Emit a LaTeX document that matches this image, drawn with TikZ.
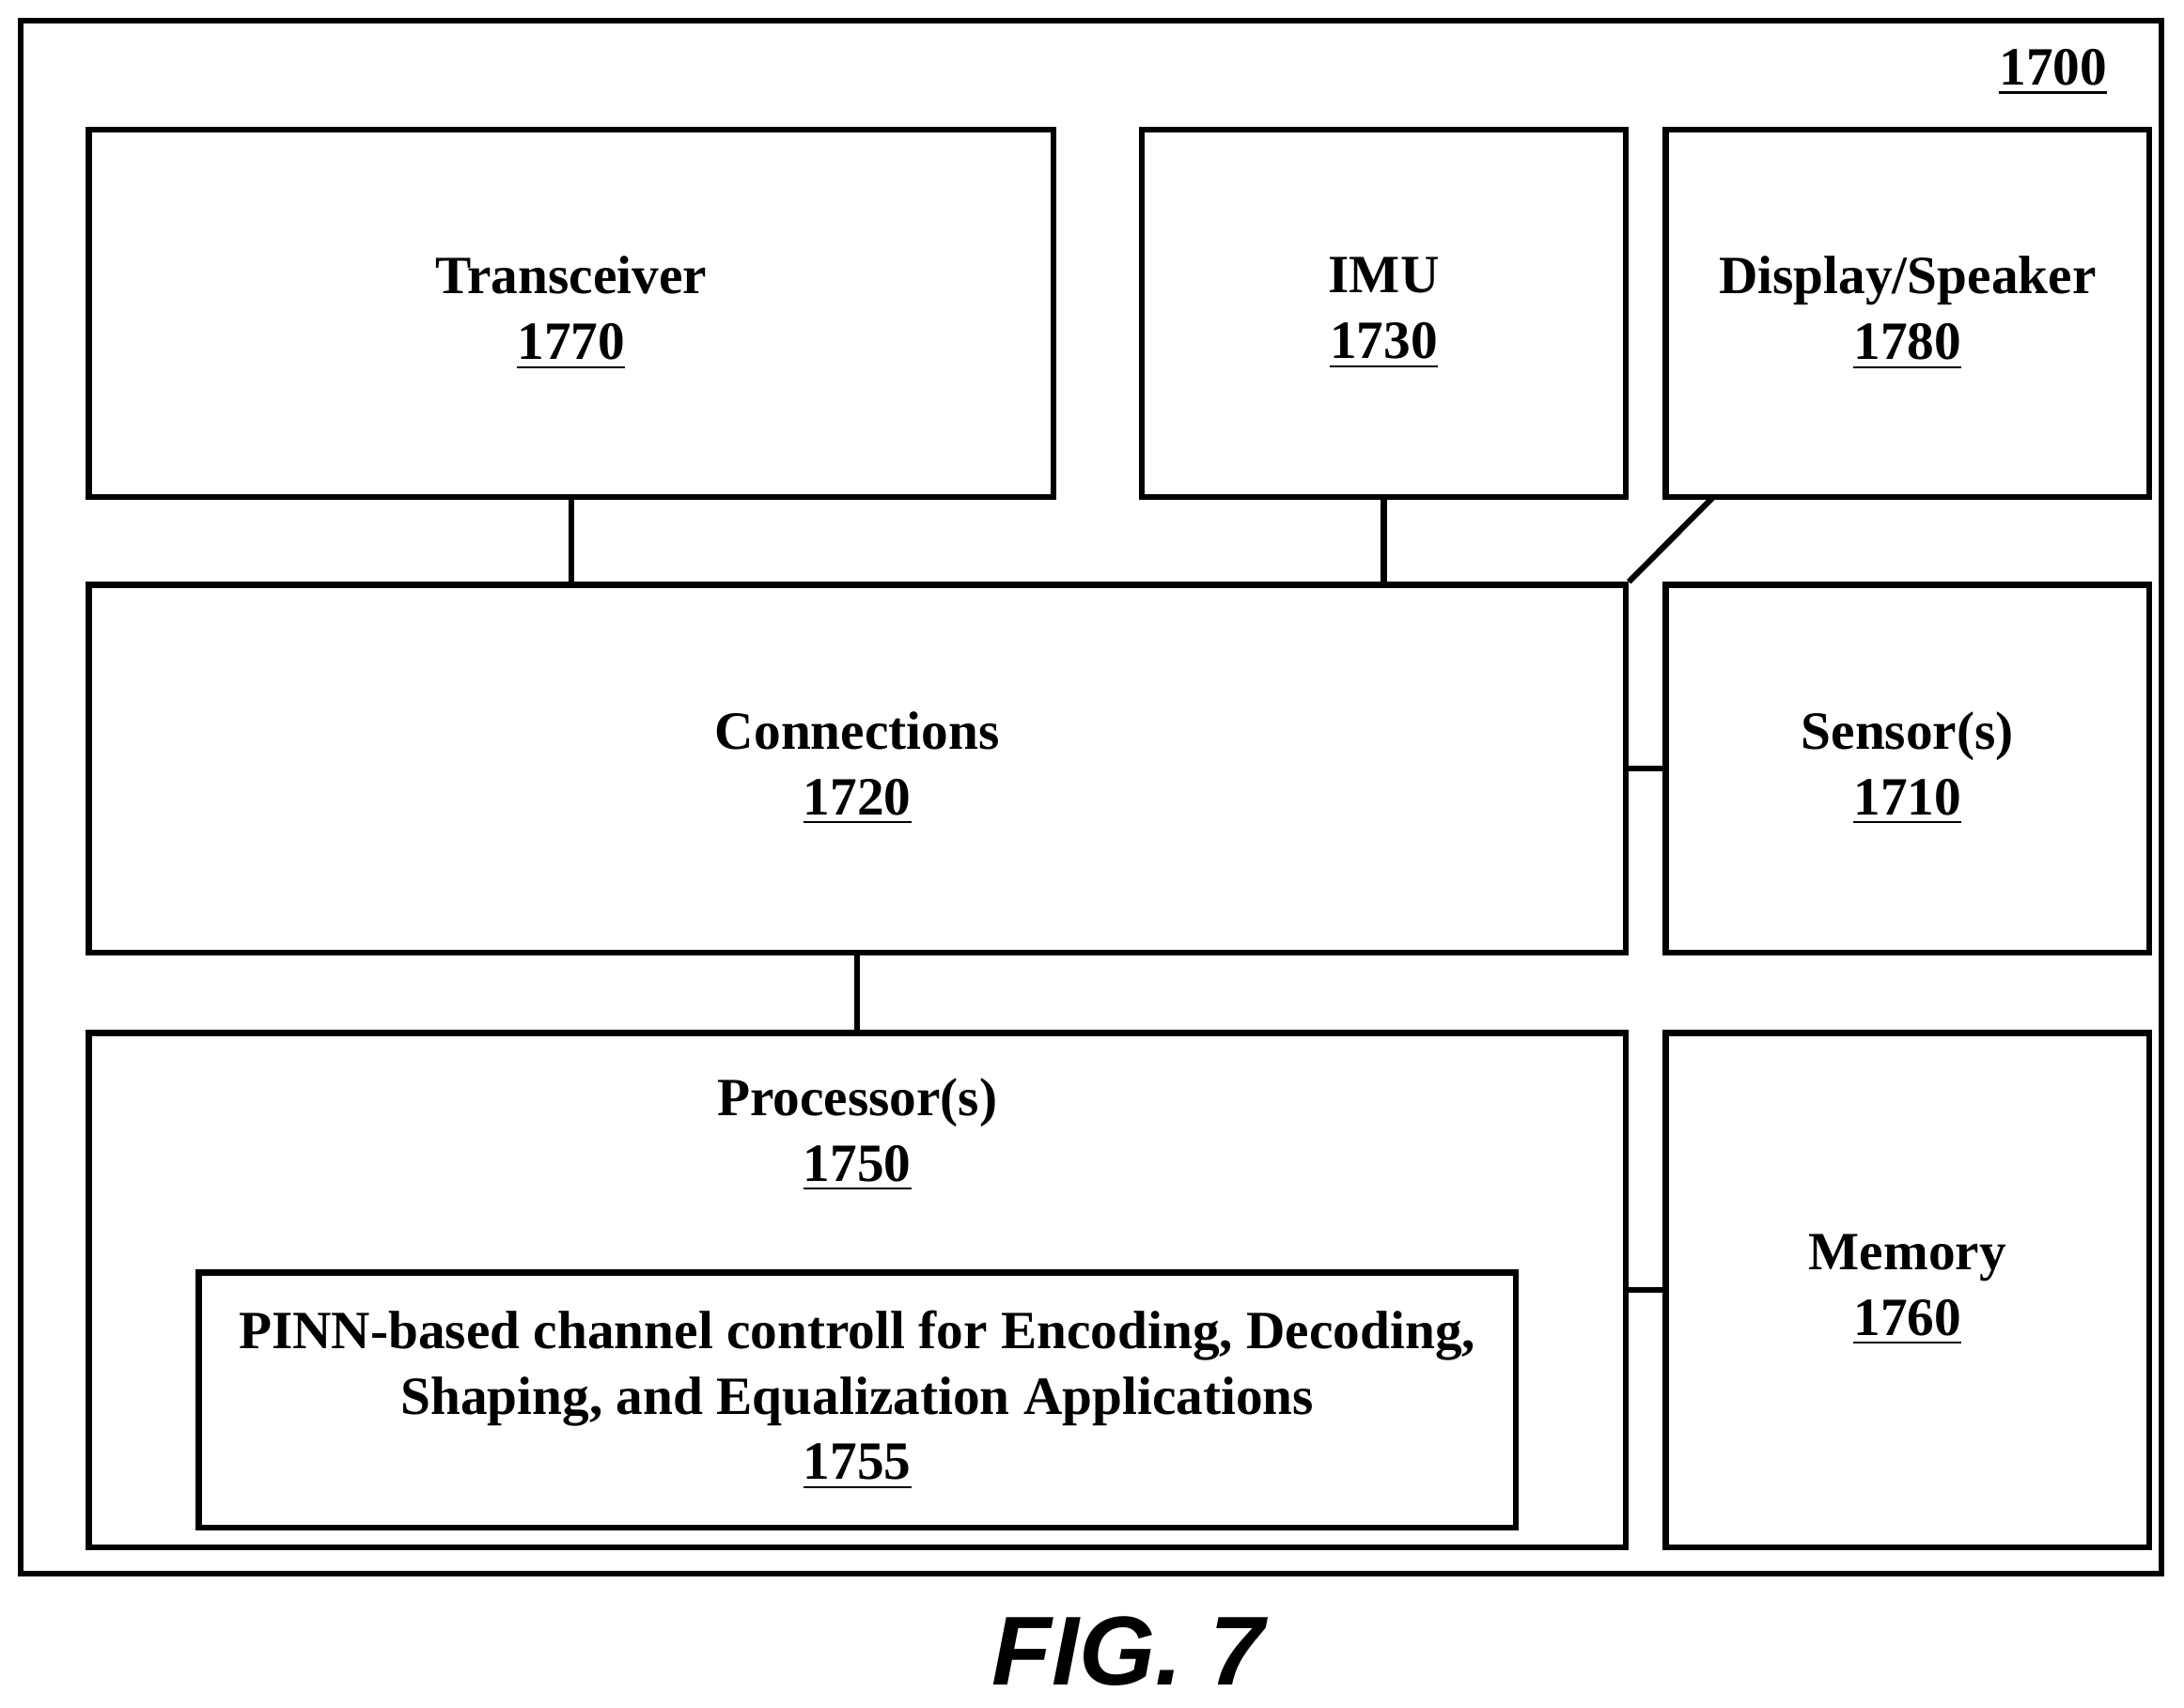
\documentclass[tikz,border=0pt]{standalone}
\usepackage{fontspec}
\setmainfont{Liberation Serif}
\setsansfont{Liberation Sans}
\begin{document}
\begin{tikzpicture}[x=0.01cm,y=-0.01cm,
    box/.style={draw=black, line width=1.2pt, align=center, inner sep=0pt,
        font=\bfseries\fontsize{11pt}{13.4pt}\selectfont},
    link/.style={black, line width=1.2pt}]
        \useasboundingbox (0,0) rectangle (1568,1226);
        \draw[black, line width=1.2pt] (15,15) rectangle (1552,1130);
        \node[font=\bfseries\fontsize{11pt}{13.4pt}\selectfont] (sys) at (1474,52) {\underline{1700}};

        \node[box, minimum width=6.92cm, minimum height=2.64cm] (trans) at (410,225) {Transceiver\\\underline{1770}};
        \node[box, minimum width=3.47cm, minimum height=2.64cm] (imu) at (993.5,225) {IMU\\\underline{1730}};
        \node[box, minimum width=3.47cm, minimum height=2.64cm] (disp) at (1369.5,225) {Display/Speaker\\\underline{1780}};
        \node[box, minimum width=11.03cm, minimum height=2.64cm] (conn) at (615.5,552) {Connections\\\underline{1720}};
        \node[box, minimum width=3.47cm, minimum height=2.64cm] (sens) at (1369.5,552) {Sensor(s)\\\underline{1710}};
        \node[box, minimum width=11.03cm, minimum height=3.69cm] (proc) at (615.5,926.5) {};
        \node[font=\bfseries\fontsize{11pt}{13.4pt}\selectfont, align=center] (proclbl) at (615.5,815) {Processor(s)\\\underline{1750}};
        \node[box, minimum width=3.47cm, minimum height=3.69cm] (mem) at (1369.5,926.5) {Memory\\\underline{1760}};
        \node[box, minimum width=9.45cm, minimum height=1.83cm] (pinn) at (615.5,1005.5) {PINN-based channel controll for Encoding, Decoding,\\Shaping, and Equalization Applications\\\underline{1755}};

        \coordinate (dtap) at (1230,357);
        \draw[link] (trans.south) -- (trans.south |- conn.north);
        \draw[link] (imu.south) -- (imu.south |- conn.north);
        \draw[link] (dtap) -- (conn.north east);
        \draw[link] (conn.east) -- (sens.west);
        \draw[link] (conn.south) -- (proc.north);
        \draw[link] (proc.east) -- (mem.west);

        \node[font=\sffamily\bfseries\itshape\fontsize{20pt}{24pt}\selectfont] (fig) at (810,1186) {FIG. 7};
\end{tikzpicture}
\end{document}
